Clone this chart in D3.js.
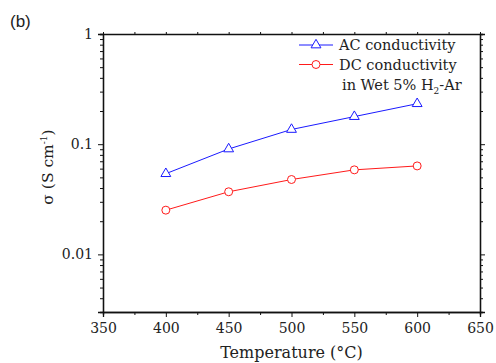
<!DOCTYPE html>
<html>
<head>
<meta charset="utf-8">
<script src="https://d3js.org/d3.v7.min.js"></script>
<style>
  body { margin: 0; background: #fff; }
  text { font-family: "DejaVu Serif", serif; fill: #222; }
</style>
</head>
<body>
<svg width="496" height="363"></svg>
<script>

var temps = [400, 450, 500, 550, 600];
var acValues = [0.054, 0.0905, 0.136, 0.178, 0.233];
var dcValues = [0.0252, 0.037, 0.0478, 0.0585, 0.0635];
var xTicks = [350, 400, 450, 500, 550, 600, 650];
var yTicks = [1, 0.1, 0.01];

var svg = d3.select("svg"),
    margin = {top: 34, right: 16, bottom: 51, left: 103},
    width = +svg.attr("width") - margin.left - margin.right,
    height = +svg.attr("height") - margin.top - margin.bottom,
    g = svg.append("g").attr("transform", "translate(" + margin.left + "," + margin.top + ")");

var x = d3.scaleLinear().domain([350, 650]).range([0, width]);
var y = d3.scaleLog().domain([0.003, 1]).range([height, 0]);

var minorX = d3.range(375, 650, 50);
var minorY = y.ticks().filter(function(d) { return yTicks.indexOf(d) < 0; });

function styleAxis(sel) {
  sel.select(".domain").attr("stroke", "#111").attr("stroke-width", 1.3);
  sel.selectAll(".tick line").attr("stroke", "#111").attr("stroke-width", 1);
  sel.selectAll("text").style("font-family", "DejaVu Serif").style("font-size", "14px").attr("fill", "#222");
}

// bottom
g.append("g").attr("transform", "translate(0," + height + ")")
    .call(d3.axisBottom(x).tickValues(minorX).tickSize(3).tickFormat(""))
    .call(styleAxis);
g.append("g").attr("transform", "translate(0," + height + ")")
    .call(d3.axisBottom(x).tickValues(xTicks).tickSize(5).tickPadding(6).tickFormat(d3.format("d")))
    .call(styleAxis);

// top
g.append("g")
    .call(d3.axisTop(x).tickValues(d3.range(350, 651, 25)).tickSize(2).tickSizeOuter(0).tickFormat(""))
    .call(styleAxis);

// left
g.append("g")
    .call(d3.axisLeft(y).tickValues(minorY).tickSize(3).tickFormat(""))
    .call(styleAxis);
g.append("g")
    .call(d3.axisLeft(y).tickValues(yTicks).tickSize(5).tickPadding(5).tickFormat(function(d) { return String(d); }))
    .call(styleAxis);

// right
g.append("g").attr("transform", "translate(" + width + ",0)")
    .call(d3.axisRight(y).tickValues(minorY).tickSize(3).tickFormat(""))
    .call(styleAxis);
g.append("g").attr("transform", "translate(" + width + ",0)")
    .call(d3.axisRight(y).tickValues(yTicks).tickSize(5).tickFormat(""))
    .call(styleAxis);

var line = d3.line()
    .x(function(d) { return x(d[0]); })
    .y(function(d) { return y(d[1]); });

var series = [
  {name: "AC", color: "#1a1aff", symbol: d3.symbolTriangle, values: d3.zip(temps, acValues)},
  {name: "DC", color: "#ff1a1a", symbol: d3.symbolCircle, values: d3.zip(temps, dcValues)}
];

function markSize(s) { return s.symbol === d3.symbolCircle ? 50 : 42; }

series.forEach(function(s) {
  g.append("path")
      .datum(s.values)
      .attr("fill", "none")
      .attr("stroke", s.color)
      .attr("stroke-width", 1)
      .attr("d", line);

  g.selectAll(".pt-" + s.name)
    .data(s.values)
    .enter().append("path")
      .attr("class", "pt-" + s.name)
      .attr("transform", function(d) { return "translate(" + x(d[0]) + "," + y(d[1]) + ")"; })
      .attr("d", d3.symbol().type(s.symbol).size(markSize(s)))
      .attr("fill", "#fff")
      .attr("stroke", s.color)
      .attr("stroke-width", 1);
});

// legend
var legend = svg.append("g");
var legendRows = [
  {s: series[0], label: "AC conductivity", y: 45},
  {s: series[1], label: "DC conductivity", y: 64.5}
];
legendRows.forEach(function(r) {
  legend.append("line")
      .attr("x1", 299).attr("x2", 333).attr("y1", r.y).attr("y2", r.y)
      .attr("stroke", r.s.color).attr("stroke-width", 1);
  legend.append("path")
      .attr("transform", "translate(316," + r.y + ")")
      .attr("d", d3.symbol().type(r.s.symbol).size(markSize(r.s)))
      .attr("fill", "#fff").attr("stroke", r.s.color).attr("stroke-width", 1);
  legend.append("text")
      .attr("x", 339).attr("y", r.y + 5)
      .style("font-size", "14.5px")
      .text(r.label);
});
var wet = legend.append("text")
    .attr("x", 342).attr("y", 89.5)
    .style("font-size", "14.5px");
wet.append("tspan").text("in Wet 5% H");
wet.append("tspan").attr("dy", 4).style("font-size", "9px").text("2");
wet.append("tspan").attr("dy", -4).text("-Ar");

// axis titles
svg.append("text")
    .attr("x", margin.left + width / 2)
    .attr("y", 358)
    .attr("text-anchor", "middle")
    .style("font-size", "16px")
    .text("Temperature (\u00b0C)");

var yt = svg.append("text")
    .attr("transform", "translate(53," + (margin.top + height / 2 - 6) + ") rotate(-90)")
    .attr("text-anchor", "middle")
    .style("font-size", "15.5px");
yt.append("tspan").text("\u03c3 (S cm");
yt.append("tspan").attr("dy", -6).style("font-size", "9px").text("-1");
yt.append("tspan").attr("dy", 6).text(")");

svg.append("text")
    .attr("x", 10).attr("y", 27)
    .style("font-family", "Liberation Sans, Arial, sans-serif")
    .style("font-size", "17px")
    .text("(b)");

</script>
</body>
</html>
